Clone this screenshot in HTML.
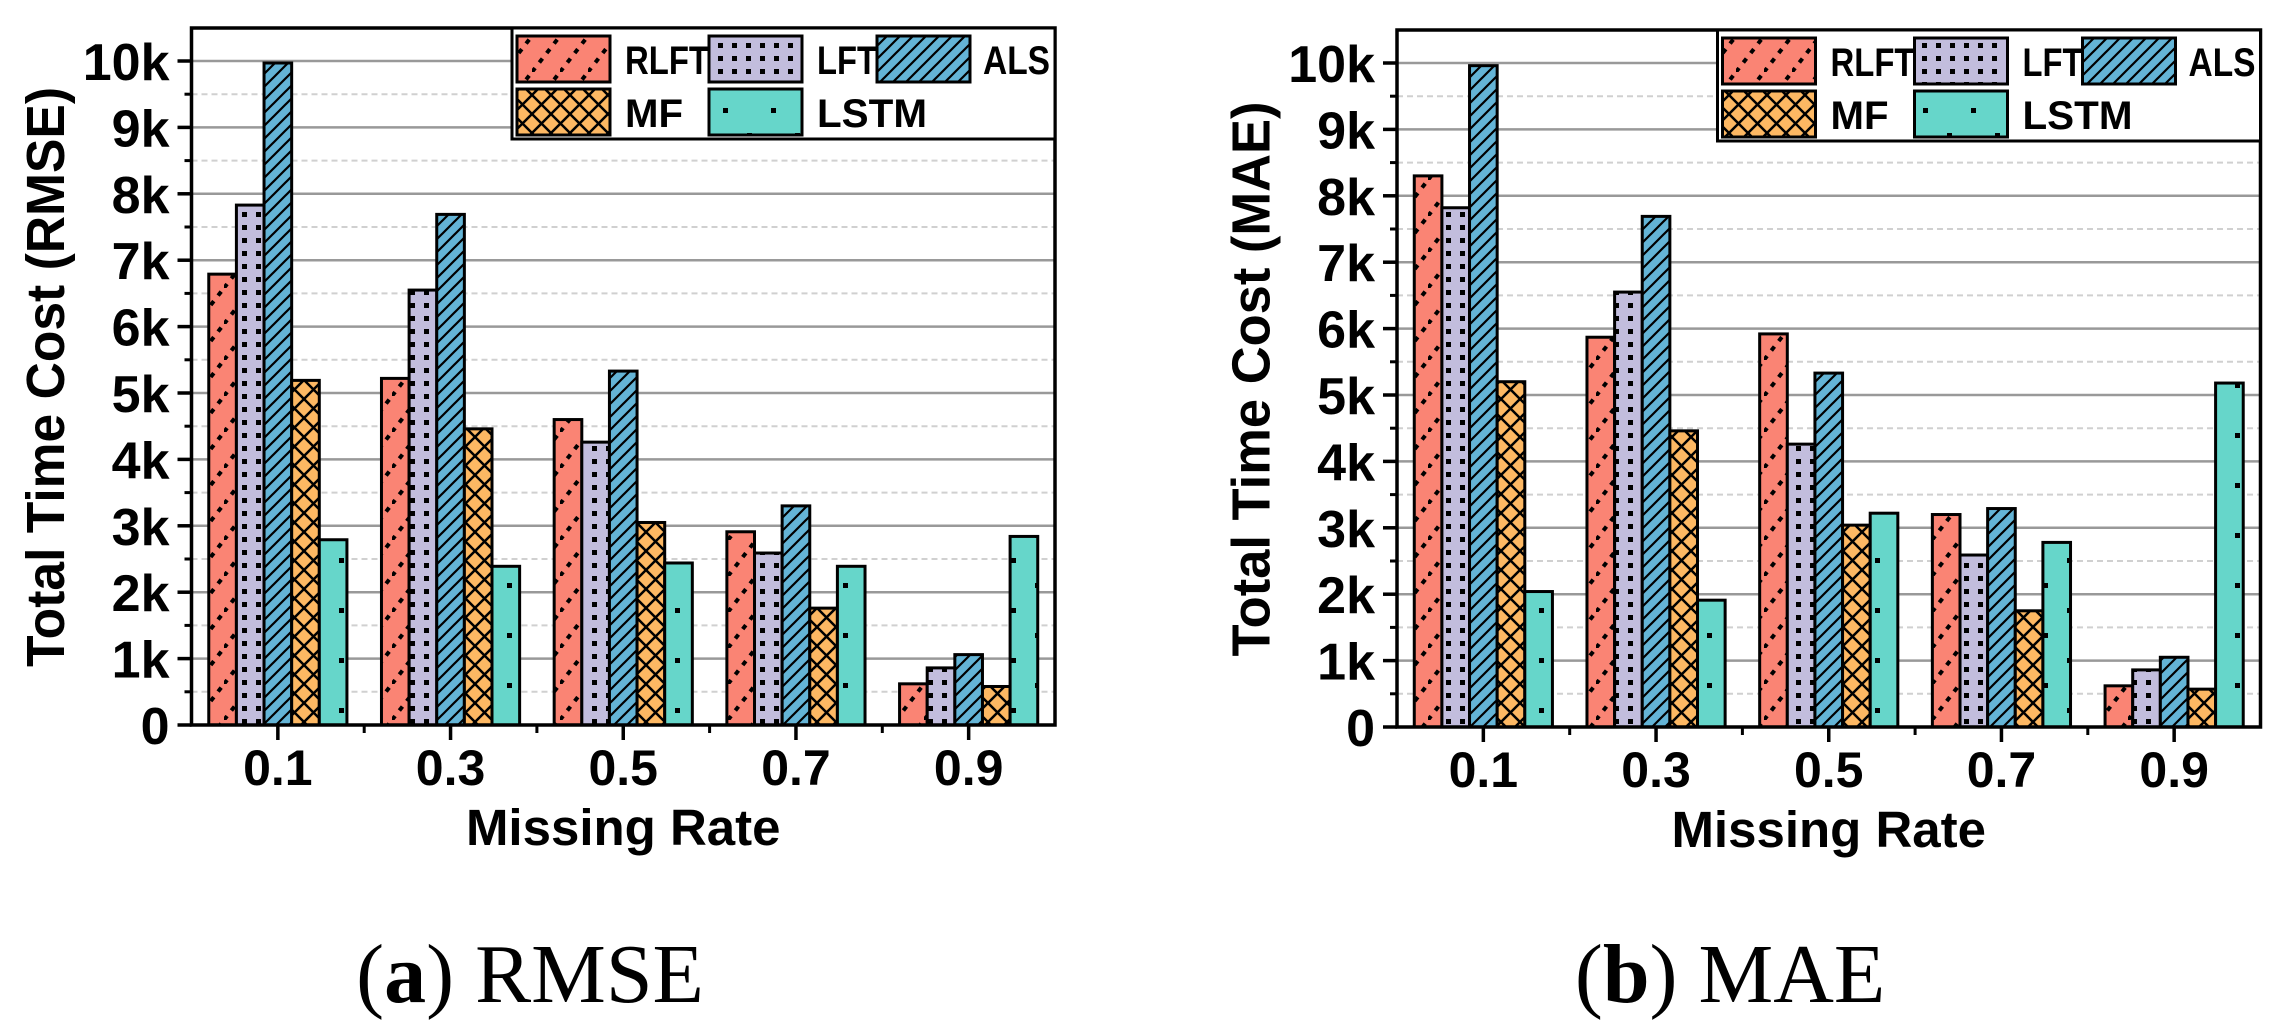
<!DOCTYPE html>
<html><head><meta charset="utf-8"><style>
html,body{margin:0;padding:0;background:#fff;}
svg{display:block;}
text{font-family:"Liberation Sans",sans-serif;font-weight:bold;fill:#000;}
.cap{font-family:"Liberation Serif",serif;font-weight:normal;}
</style></head><body>
<svg id="chart" width="2282" height="1035" viewBox="0 0 2282 1035" xmlns="http://www.w3.org/2000/svg">
<defs>
<pattern id="p-rlft" patternUnits="userSpaceOnUse" width="28" height="36">
<rect width="28" height="36" fill="#FA8474"/>
<path d="M0,36 L28,0" stroke="#000" stroke-width="4" stroke-dasharray="5 7"/>
</pattern>
<pattern id="p-lft" patternUnits="userSpaceOnUse" width="14" height="13">
<rect width="14" height="13" fill="#C2BDDD"/>
<rect x="4" y="4" width="5" height="5" fill="#000"/>
</pattern>
<pattern id="p-als" patternUnits="userSpaceOnUse" width="13" height="13">
<rect width="13" height="13" fill="#64B4D6"/>
<path d="M-2,15 L15,-2 M-2,2 L2,-2 M11,15 L15,11" stroke="#000" stroke-width="2.2"/>
</pattern>
<pattern id="p-mf" patternUnits="userSpaceOnUse" width="19" height="19">
<rect width="19" height="19" fill="#FDB863"/>
<path d="M0,0 L19,19 M19,0 L0,19" stroke="#000" stroke-width="2.5"/>
</pattern>
<pattern id="p-lstm" patternUnits="userSpaceOnUse" width="48" height="50">
<rect width="48" height="50" fill="#66D6CA"/>
<rect x="3" y="8" width="5" height="5" fill="#000"/>
<rect x="27" y="33" width="5" height="5" fill="#000"/>
</pattern>
</defs>
</svg>
<script>
const categories = ["0.1","0.3","0.5","0.7","0.9"];
const seriesNames = ["RLFT","LFT","ALS","MF","LSTM"];
const rmseRLFT = [6790,5220,4600,2910,620];
const rmseLFT  = [7830,6550,4260,2590,860];
const rmseALS  = [9970,7690,5330,3300,1060];
const rmseMF   = [5190,4460,3050,1760,580];
const rmseLSTM = [2790,2390,2440,2390,2840];
const maeRLFT = [8300,5870,5920,3200,620];
const maeLFT  = [7820,6550,4260,2590,860];
const maeALS  = [9960,7690,5330,3290,1050];
const maeMF   = [5200,4460,3040,1750,570];
const maeLSTM = [2040,1910,3220,2780,5180];
const yTicks = [0,1000,2000,3000,4000,5000,6000,7000,8000,9000,10000];
const yTickLabels = ["0","1k","2k","3k","4k","5k","6k","7k","8k","9k","10k"];

const NS="http://www.w3.org/2000/svg";
const svg=document.getElementById('chart');
const fills=["url(#p-rlft)","url(#p-lft)","url(#p-als)","url(#p-mf)","url(#p-lstm)"];
function mk(tag,attrs,parent){const e=document.createElementNS(NS,tag);for(const k in attrs)e.setAttribute(k,attrs[k]);(parent||svg).appendChild(e);return e;}

function panel(ox,oy,data,id,yTitle,capLetter,capText,capX){
  const g=mk('g',{});
  
  
  const x0=191.5+ox,x1=1055+ox,yTop=28+oy,yBase=725+oy,ymax=10000;
  const ys=v=>yBase-(v/ymax)*664;
  const gw=(x1-x0)/categories.length;
  const xc=i=>x0+gw*(i+0.5);
  for(let v=500;v<10500;v+=1000){
    const l=mk('line',{x1:x0,x2:x1,y1:ys(v),y2:ys(v),stroke:'#d0d0d0','stroke-width':2,'stroke-dasharray':'6 4'},g);
    
    
  }
  yTicks.forEach((v,i)=>{
    if(v>0){const l=mk('line',{x1:x0,x2:x1,y1:ys(v),y2:ys(v),stroke:'#999','stroke-width':2.5},g);
    
    }
    const t=mk('line',{x1:x0-14,x2:x0,y1:ys(v),y2:ys(v),stroke:'#000','stroke-width':3.5},g);
    
    
    const tx=mk('text',{x:x0-22,y:ys(v)+19,'text-anchor':'end','font-size':52},g);
    tx.textContent=yTickLabels[i];
    
    
  });
  for(let v=500;v<10500;v+=1000){mk('line',{x1:x0-7,x2:x0,y1:ys(v),y2:ys(v),stroke:'#000','stroke-width':3},g);}
  const bw=gw*0.8/5;
  data.forEach((arr,s)=>{
    arr.forEach((v,i)=>{
      const bx=xc(i)-gw*0.4+s*bw;
      const r=mk('rect',{x:bx,y:ys(v),width:bw,height:yBase-ys(v),fill:fills[s],stroke:'#000','stroke-width':3},g);
      
      
    });
  });
  const ax=mk('path',{d:`M${x0},${yTop} L${x0},${yBase} L${x1},${yBase} L${x1},${yTop} Z`,fill:'none',stroke:'#000','stroke-width':3.5},g);
  
  
  categories.forEach((c,i)=>{
    mk('line',{x1:xc(i),x2:xc(i),y1:yBase,y2:yBase+15,stroke:'#000','stroke-width':3.5},g);
    if(i>0)mk('line',{x1:x0+gw*i,x2:x0+gw*i,y1:yBase,y2:yBase+8,stroke:'#000','stroke-width':3},g);
    const t=mk('text',{x:xc(i),y:yBase+60,'text-anchor':'middle','font-size':50},g);
    t.textContent=c;
    
    
  });
  const xt=mk('text',{x:(x0+x1)/2,y:yBase+120,'text-anchor':'middle','font-size':51},g);
  xt.textContent='Missing Rate';
  
  
  const yt=mk('text',{x:0,y:0,'text-anchor':'middle','font-size':54,textLength:(id==='rmse'?580:555),lengthAdjust:'spacingAndGlyphs',transform:`translate(${64+ox},${377+oy}) rotate(-90)`},g);
  yt.textContent=yTitle;
  
  
  const lg=mk('g',{},g);
  
  
  mk('rect',{x:512+ox,y:yTop,width:x1-512-ox,height:139+oy-yTop,fill:'#fff',stroke:'#000','stroke-width':3},lg);
  const pos=[[517,36],[709,36],[877,36],[517,89],[709,89]];
  const tpos=[625,817,983,625,817];
  const tlen=[84,60,67,58,110];
  const ents=[];
  seriesNames.forEach((n,s)=>{
    const e=mk('g',{},lg);
    
    
    mk('rect',{x:pos[s][0]+ox,y:pos[s][1]+oy,width:93,height:46,fill:fills[s],stroke:'#000','stroke-width':3},e);
    ents.push(e);
  });
  seriesNames.forEach((n,s)=>{
    const t=mk('text',{x:tpos[s]+ox,y:pos[s][1]+oy+38,'font-size':40,textLength:tlen[s],lengthAdjust:'spacingAndGlyphs'},ents[s]);
    t.textContent=n;
  });
  const cp=mk('text',{x:capX,y:1002,'text-anchor':'middle','font-size':84,class:'cap'},g);
  
  
  const t1=document.createElementNS(NS,'tspan');t1.textContent='(';cp.appendChild(t1);
  const t2=document.createElementNS(NS,'tspan');t2.setAttribute('font-weight','bold');t2.textContent=capLetter;cp.appendChild(t2);
  const t3=document.createElementNS(NS,'tspan');t3.textContent=') '+capText;cp.appendChild(t3);
}
panel(0,0,[rmseRLFT,rmseLFT,rmseALS,rmseMF,rmseLSTM],'rmse','Total Time Cost (RMSE)','a','RMSE',530);
panel(1205.5,2,[maeRLFT,maeLFT,maeALS,maeMF,maeLSTM],'mae','Total Time Cost (MAE)','b','MAE',1730);
</script>
</body></html>
